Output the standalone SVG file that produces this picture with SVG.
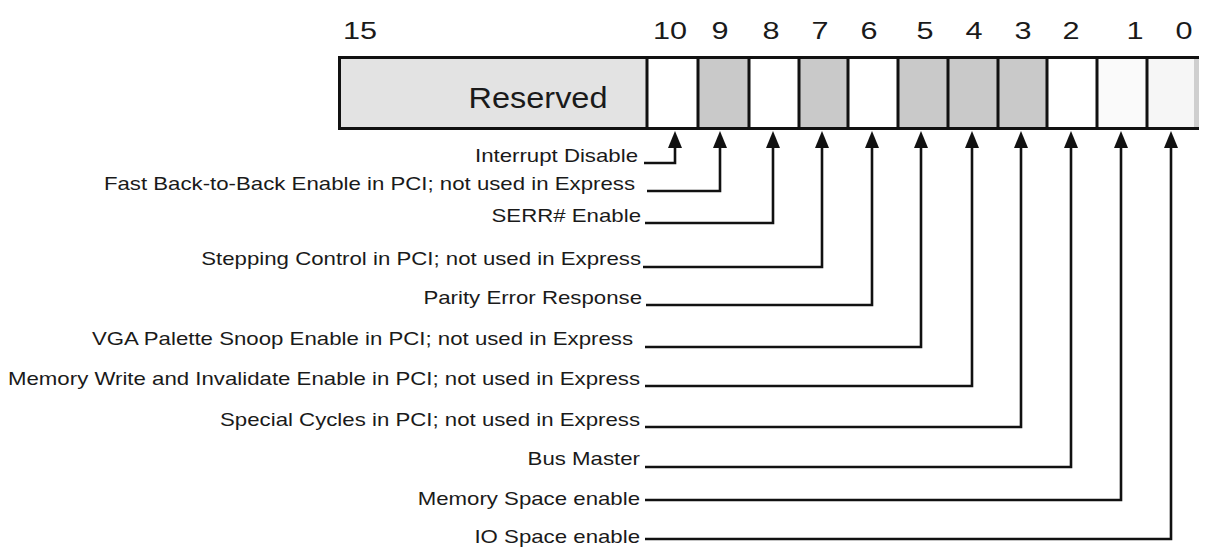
<svg xmlns="http://www.w3.org/2000/svg" width="1207" height="547" viewBox="0 0 1207 547">
<style>
text{font-family:"Liberation Sans",Arial,sans-serif;fill:#1a1a1a}
.num{font-size:24.5px;text-anchor:middle}
.lbl{font-size:18px;text-anchor:end}
.res{font-size:29px;text-anchor:middle}
.cell{stroke:none}
.g{fill:#c9c9c9}
.w{fill:#ffffff}
.border{stroke:#111;stroke-width:3;fill:none}
.conn{stroke:#111;stroke-width:2.6;fill:none}
</style>
<defs>
<marker id="ah" viewBox="0 0 17 14" refX="8" refY="7" markerWidth="17" markerHeight="14" markerUnits="userSpaceOnUse" orient="auto">
<path d="M0,0 L17,7 L0,14 z" fill="#111"/>
</marker>
</defs>
<rect width="1207" height="547" fill="#ffffff"/>
<g id="bit-numbers">
<text class="num" transform="translate(360,39) scale(1.25,1)">15</text>
<text class="num" transform="translate(670,39) scale(1.25,1)">10</text>
<text class="num" transform="translate(720,39) scale(1.25,1)">9</text>
<text class="num" transform="translate(771,39) scale(1.25,1)">8</text>
<text class="num" transform="translate(820,39) scale(1.25,1)">7</text>
<text class="num" transform="translate(869,39) scale(1.25,1)">6</text>
<text class="num" transform="translate(925,39) scale(1.25,1)">5</text>
<text class="num" transform="translate(974,39) scale(1.25,1)">4</text>
<text class="num" transform="translate(1023,39) scale(1.25,1)">3</text>
<text class="num" transform="translate(1071,39) scale(1.25,1)">2</text>
<text class="num" transform="translate(1135,39) scale(1.25,1)">1</text>
<text class="num" transform="translate(1184,39) scale(1.25,1)">0</text>
</g>
<g id="register">
<g id="reserved">
<rect class="cell" x="339" y="57" width="308" height="72" fill="#e3e3e3"/>
<text class="res" transform="translate(538,108) scale(1.12,1)">Reserved</text>
</g>
<rect id="bit10" class="cell w" x="647" y="57" width="51" height="72"/>
<rect id="bit9" class="cell g" x="698" y="57" width="51" height="72"/>
<rect id="bit8" class="cell w" x="749" y="57" width="50" height="72"/>
<rect id="bit7" class="cell g" x="799" y="57" width="49" height="72"/>
<rect id="bit6" class="cell w" x="848" y="57" width="50" height="72"/>
<rect id="bit5" class="cell g" x="898" y="57" width="50" height="72"/>
<rect id="bit4" class="cell g" x="948" y="57" width="50" height="72"/>
<rect id="bit3" class="cell g" x="998" y="57" width="49" height="72"/>
<rect id="bit2" class="cell w" x="1047" y="57" width="50" height="72"/>
<rect id="bit1" class="cell" x="1097" y="57" width="50" height="72" fill="#fafafa"/>
<rect id="bit0" class="cell" x="1147" y="57" width="52" height="72" fill="#f6f6f6"/>
<rect class="cell" x="1194" y="59" width="5" height="68" fill="#cfcfcf"/>
<path class="border" d="M1199,57.5 H339.5 V128.5 H1199"/>
<path class="border" d="M647,57 V129 M698,57 V129 M749,57 V129 M799,57 V129 M848,57 V129 M898,57 V129 M948,57 V129 M998,57 V129 M1047,57 V129 M1097,57 V129 M1147,57 V129"/>
</g>
<g id="labels">
<text class="lbl" transform="translate(638,162) scale(1.235,1)">Interrupt Disable</text>
<text class="lbl" transform="translate(635,190) scale(1.235,1)">Fast Back-to-Back Enable in PCI; not used in Express</text>
<text class="lbl" transform="translate(641,222) scale(1.235,1)">SERR# Enable</text>
<text class="lbl" transform="translate(641,265) scale(1.235,1)">Stepping Control in PCI; not used in Express</text>
<text class="lbl" transform="translate(642,304) scale(1.235,1)">Parity Error Response</text>
<text class="lbl" transform="translate(633,345) scale(1.235,1)">VGA Palette Snoop Enable in PCI; not used in Express</text>
<text class="lbl" transform="translate(640,385) scale(1.235,1)">Memory Write and Invalidate Enable in PCI; not used in Express</text>
<text class="lbl" transform="translate(640,426) scale(1.235,1)">Special Cycles in PCI; not used in Express</text>
<text class="lbl" transform="translate(640,465) scale(1.235,1)">Bus Master</text>
<text class="lbl" transform="translate(640,505) scale(1.235,1)">Memory Space enable</text>
<text class="lbl" transform="translate(640,543) scale(1.235,1)">IO Space enable</text>
</g>
<g id="connectors">
<polyline class="conn" marker-end="url(#ah)" points="644,163 675,163 675,140"/>
<polyline class="conn" marker-end="url(#ah)" points="647,191 720,191 720,140"/>
<polyline class="conn" marker-end="url(#ah)" points="645,223 773,223 773,140"/>
<polyline class="conn" marker-end="url(#ah)" points="643,267 822,267 822,140"/>
<polyline class="conn" marker-end="url(#ah)" points="646,305 872,305 872,140"/>
<polyline class="conn" marker-end="url(#ah)" points="645,347 921,347 921,140"/>
<polyline class="conn" marker-end="url(#ah)" points="645,386 972,386 972,140"/>
<polyline class="conn" marker-end="url(#ah)" points="645,427 1021,427 1021,140"/>
<polyline class="conn" marker-end="url(#ah)" points="645,467 1071,467 1071,140"/>
<polyline class="conn" marker-end="url(#ah)" points="645,500 1121,500 1121,140"/>
<polyline class="conn" marker-end="url(#ah)" points="645,539 1171,539 1171,140"/>
</g>
</svg>
